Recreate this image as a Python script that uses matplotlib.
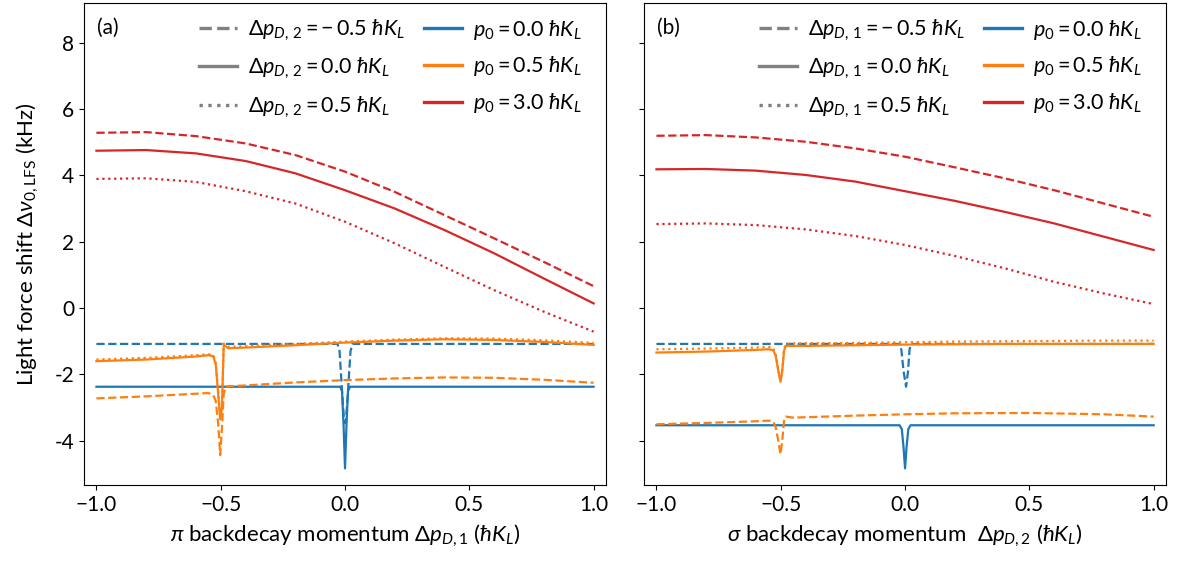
import matplotlib
matplotlib.use("Agg")
import matplotlib.pyplot as plt
from matplotlib.lines import Line2D

plt.rcParams["font.family"] = ["Lato", "DejaVu Sans"]
plt.rcParams["mathtext.fontset"] = "custom"
plt.rcParams["mathtext.rm"] = "Lato"
plt.rcParams["mathtext.it"] = "Lato:italic"
plt.rcParams["mathtext.bf"] = "Lato:bold"
plt.rcParams["font.size"] = 15

# coarse momentum grid used for the p0 = 3.0 curves
x_coarse = [-1.0, -0.8, -0.6, -0.4, -0.2, 0.0, 0.2, 0.4, 0.6, 0.8, 1.0]

# ---- panel (a): scan of pi backdecay momentum ----
a_red_m = [5.28, 5.30, 5.18, 4.96, 4.61, 4.11, 3.50, 2.80, 2.10, 1.39, 0.66]
a_red_0 = [4.74, 4.76, 4.66, 4.43, 4.06, 3.55, 3.00, 2.35, 1.65, 0.89, 0.14]
a_red_p = [3.89, 3.91, 3.80, 3.52, 3.15, 2.60, 1.95, 1.24, 0.54, -0.11, -0.71]

a_blue_m_x = [-1.0, -0.03, -0.022, -0.012, -0.004, 0.0, 0.004, 0.012, 0.022, 0.03, 1.0]
a_blue_m = [-1.08, -1.08, -1.3, -2.5, -3.35, -3.47, -3.35, -2.5, -1.3, -1.08, -1.08]
a_blue_0_x = [-1.0, -0.02, -0.012, -0.006, 0.0, 0.006, 0.012, 0.02, 1.0]
a_blue_0 = [-2.37, -2.37, -2.5, -3.5, -4.83, -3.5, -2.5, -2.37, -2.37]

a_or_x = [-1.0, -0.8, -0.6, -0.55, -0.53, -0.52, -0.51, -0.502, -0.495, -0.488,
          -0.48, -0.47, -0.4, -0.2, 0.0, 0.2, 0.4, 0.6, 0.8, 1.0]
a_or_0 = [-1.60, -1.55, -1.46, -1.42, -1.45, -1.70, -2.60, -3.35, -3.00, -1.10,
          -1.15, -1.21, -1.19, -1.12, -1.04, -0.98, -0.94, -0.96, -1.02, -1.11]
a_or_p = [-1.55, -1.50, -1.42, -1.39, -1.42, -1.65, -2.55, -3.30, -2.95, -1.07,
          -1.12, -1.17, -1.15, -1.08, -1.01, -0.95, -0.91, -0.92, -0.97, -1.05]
a_or_m_x = [-1.0, -0.8, -0.6, -0.55, -0.53, -0.52, -0.51, -0.502, -0.495, -0.488,
            -0.48, -0.4, -0.2, 0.0, 0.2, 0.4, 0.6, 0.8, 1.0]
a_or_m = [-2.72, -2.66, -2.58, -2.56, -2.62, -2.80, -3.50, -4.43, -3.60, -2.60,
          -2.36, -2.33, -2.24, -2.17, -2.12, -2.09, -2.10, -2.16, -2.25]

# ---- panel (b): scan of sigma backdecay momentum ----
b_red_m = [5.19, 5.21, 5.14, 5.01, 4.81, 4.56, 4.24, 3.91, 3.55, 3.15, 2.75]
b_red_0 = [4.18, 4.19, 4.14, 4.01, 3.81, 3.52, 3.23, 2.90, 2.55, 2.15, 1.75]
b_red_p = [2.53, 2.55, 2.50, 2.37, 2.17, 1.90, 1.57, 1.20, 0.79, 0.44, 0.12]

b_blue_m_x = [-1.0, -0.024, -0.015, -0.006, 0.004, 0.012, 0.018, 0.024, 1.0]
b_blue_m = [-1.08, -1.08, -1.25, -1.9, -2.37, -1.9, -1.25, -1.08, -1.08]
b_blue_0_x = [-1.0, -0.022, -0.013, -0.006, 0.0, 0.006, 0.013, 0.022, 1.0]
b_blue_0 = [-3.53, -3.53, -3.65, -4.2, -4.83, -4.2, -3.65, -3.53, -3.53]

b_or_x = [-1.0, -0.8, -0.6, -0.55, -0.53, -0.52, -0.51, -0.501, -0.494, -0.487,
          -0.48, -0.4, -0.2, 0.0, 0.2, 0.4, 0.6, 0.8, 1.0]
b_or_0 = [-1.34, -1.31, -1.26, -1.24, -1.27, -1.45, -1.90, -2.22, -1.90, -1.30,
          -1.14, -1.14, -1.12, -1.10, -1.09, -1.08, -1.08, -1.08, -1.08]
b_or_p = [-1.24, -1.22, -1.19, -1.17, -1.20, -1.40, -1.85, -2.17, -1.85, -1.25,
          -1.07, -1.06, -1.05, -1.03, -1.01, -1.00, -0.99, -0.98, -0.98]
b_or_m_x = [-1.0, -0.8, -0.6, -0.55, -0.53, -0.52, -0.51, -0.501, -0.494, -0.487,
            -0.48, -0.45, -0.2, 0.0, 0.2, 0.5, 0.8, 1.0]
b_or_m = [-3.50, -3.46, -3.41, -3.39, -3.42, -3.60, -4.00, -4.40, -4.00, -3.40,
          -3.27, -3.30, -3.24, -3.20, -3.17, -3.16, -3.20, -3.27]

yticks = [-4, -2, 0, 2, 4, 6, 8]
ytick_labels = ["-4", "-2", "0", "2", "4", "6", "8"]
xticks = [-1.0, -0.5, 0.0, 0.5, 1.0]

dp_vals = ["-0.5", "0.0", "0.5"]
p0_vals = ["0.0", "0.5", "3.0"]
styles = ["--", "-", ":"]
colors = ["tab:blue", "tab:orange", "tab:red"]
LW = 1.6

fig = plt.figure(figsize=(11.83, 5.66), dpi=100)
ax_a = fig.add_axes([0.0710, 0.1431, 0.4413, 0.8516])
ax_b = fig.add_axes([0.5444, 0.1431, 0.4413, 0.8516], sharey=ax_a)

panels = [
    (ax_a, "(a)", "2",
     [(a_blue_m_x, a_blue_m, "--", 0), (a_blue_0_x, a_blue_0, "-", 0),
      (a_or_m_x, a_or_m, "--", 1), (a_or_x, a_or_0, "-", 1), (a_or_x, a_or_p, ":", 1),
      (x_coarse, a_red_m, "--", 2), (x_coarse, a_red_0, "-", 2), (x_coarse, a_red_p, ":", 2)],
     r"$\pi$ backdecay momentum $\Delta p_{D,1}$ ($\hbar K_L$)"),
    (ax_b, "(b)", "1",
     [(b_blue_m_x, b_blue_m, "--", 0), (b_blue_0_x, b_blue_0, "-", 0),
      (b_or_m_x, b_or_m, "--", 1), (b_or_x, b_or_0, "-", 1), (b_or_x, b_or_p, ":", 1),
      (x_coarse, b_red_m, "--", 2), (x_coarse, b_red_0, "-", 2), (x_coarse, b_red_p, ":", 2)],
     r"$\sigma$ backdecay momentum  $\Delta p_{D,2}$ ($\hbar K_L$)"),
]

for ax, tag, idx, curves, xlabel in panels:
    for xs, ys, ls, ci in curves:
        ax.plot(xs, ys, ls=ls, color=colors[ci], lw=LW)
    ax.set_xlim(-1.05, 1.05)
    ax.set_ylim(-5.33, 9.19)
    ax.set_xticks(xticks)
    ax.tick_params(labelsize=15)
    ax.set_xlabel(xlabel, labelpad=6, fontsize=16)
    ax.text(0.025, 0.948, tag, transform=ax.transAxes, va="center", ha="left")

    handles, labels = [], []
    for ls, v in zip(styles, dp_vals):
        handles.append(Line2D([], [], ls=ls, color="gray", lw=2.4))
        v = v.replace("-", "-\\,") if v.startswith("-") else v
        labels.append(r"$\Delta p_{D,\,%s} = %s\ \hbar K_L$" % (idx, v))
    for c, v in zip(colors, p0_vals):
        handles.append(Line2D([], [], ls="-", color=c, lw=2.4))
        labels.append(r"$p_0 = %s\ \hbar K_L$" % v)
    ax.legend(handles, labels, ncol=2, loc="upper right", frameon=False,
              bbox_to_anchor=(0.99, 1.01), handlelength=1.75, handletextpad=0.5,
              columnspacing=0.9, labelspacing=0.6, fontsize=15.5)

ax_a.set_yticks(yticks)
ax_a.set_yticklabels(ytick_labels)
ax_a.set_ylabel(r"Light force shift $\Delta\nu_{0,\mathrm{LFS}}$ (kHz)", labelpad=10, fontsize=16)
ax_b.tick_params(labelleft=False)

fig.savefig("out.png", dpi=100)
